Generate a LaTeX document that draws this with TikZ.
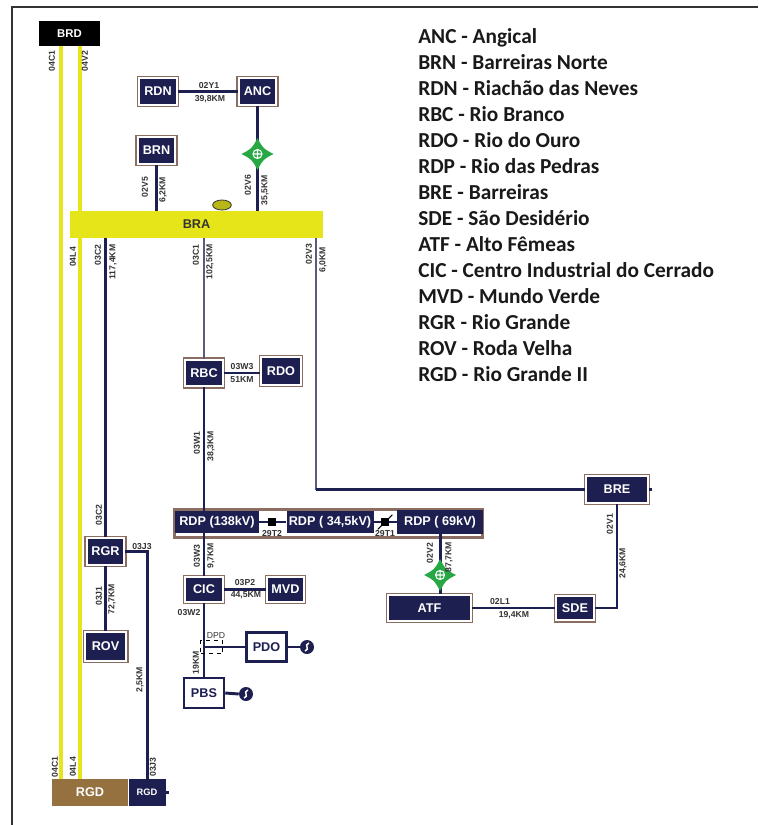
\documentclass[tikz,border=0pt]{standalone}
\usepackage{fontspec}
\setsansfont{Liberation Sans}
\newfontfamily\legendfont{Carlito}
\usetikzlibrary{positioning}
\usetikzlibrary{shapes.geometric}

\definecolor{navy}{HTML}{1C1F4F}
\definecolor{boxbrown}{HTML}{8C6D62}
\definecolor{busyellow}{HTML}{E6E51A}
\definecolor{lineyellow}{HTML}{E8E41C}
\definecolor{rgdbrown}{HTML}{94713F}
\definecolor{regreen}{HTML}{27A844}
\definecolor{thinblue}{HTML}{5A5A7E}
\definecolor{lblgray}{HTML}{333333}

\begin{document}
\begin{tikzpicture}[x=0.75pt, y=-0.75pt,
    stn/.style={rectangle, minimum width=28pt, minimum height=19.7pt, inner sep=0pt, fill=navy, draw=white, line width=1.6pt, preaction={draw=boxbrown, line width=3.6pt}, text=white, font=\sffamily\bfseries\fontsize{9.5}{11}\selectfont},
    rdpbox/.style={rectangle, minimum height=16.5pt, inner sep=0pt, fill=navy, text=white, font=\sffamily\bfseries\fontsize{9.5}{11}\selectfont},
    load/.style={rectangle, minimum width=30pt, minimum height=22pt, inner sep=0pt, fill=white, draw=navy, line width=1.9pt, text=navy, font=\sffamily\bfseries\fontsize{9.5}{11}\selectfont},
    gen/.style={circle, minimum size=10.5pt, inner sep=0pt, fill=navy, path picture={\draw[white, line width=1.1pt] ([shift={(2,-4)}]path picture bounding box.center) .. controls ([shift={(-4,-2)}]path picture bounding box.center) and ([shift={(4,2)}]path picture bounding box.center) .. ([shift={(-2,4)}]path picture bounding box.center);}},
    sw/.style={rectangle, fill=black, minimum size=6pt, inner sep=0pt},
    nline/.style={navy, line width=2.2pt},
    tline/.style={thinblue, line width=1.1pt},
    yline/.style={lineyellow, line width=2.4pt},
    lbl/.style={inner sep=0pt, text=lblgray, font=\sffamily\bfseries\fontsize{6.5}{7}\selectfont},
    vlbl/.style={lbl, rotate=90},
    leg/.style={inner sep=0pt, anchor=base west, text=black!90, font=\legendfont\bfseries\fontsize{16}{19}\selectfont},
    reg/.pic={
        \fill[regreen] (0,-16) .. controls (5.5,-5.5) .. (16,0) .. controls (5.5,5.5) .. (0,16) .. controls (-5.5,5.5) .. (-16,0) .. controls (-5.5,-5.5) .. cycle;
        \draw[white, line width=0.8pt] (0,0) circle (4.5) (-4.5,0) -- (4.5,0) (0,-4.5) -- (0,4.5);
    }
]
    \useasboundingbox (0,0) rectangle (758,825);
    \draw[black!80, line width=1.1pt] (12,825) -- (12,7) -- (758,7);

    % substations
    \node[rectangle, fill=black, minimum width=45.75pt, minimum height=18.75pt, inner sep=0pt, text=white, font=\sffamily\bfseries\fontsize{8.5}{10}\selectfont] (brd) at (69.5,33.5) {BRD};
    \node[rectangle, fill=busyellow, minimum width=189.75pt, minimum height=20.25pt, inner sep=0pt, text=black!80, font=\sffamily\bfseries\fontsize{9.5}{10}\selectfont] (bra) at (196.5,224.5) {BRA};
    \node[ellipse, fill=busyellow!80!black, draw=black!80, line width=0.6pt, minimum width=14pt, minimum height=7.5pt, inner sep=0pt] (ovl) at (222,205) {};
    \node[stn] (rdn) at (158,91.5) {RDN};
    \node[stn] (anc) at (257.5,91.5) {ANC};
    \node[stn] (brn) at (156.5,150.5) {BRN};
    \node[stn] (rbc) at (204,373) {RBC};
    \node[stn, minimum width=29.4pt, minimum height=20.4pt] (rdo) at (281,371) {RDO};
    \node[stn, minimum height=18.15pt] (cic) at (204,589.5) {CIC};
    \node[stn, minimum width=27.15pt, minimum height=18.15pt] (mvd) at (285.5,589.5) {MVD};
    \node[stn] (rgr) at (105.5,551.5) {RGR};
    \node[stn, minimum width=30.9pt, minimum height=21.15pt] (rov) at (105.5,646.5) {ROV};
    \node[stn, minimum width=45.9pt] (bre) at (617,489.5) {BRE};
    \node[stn, minimum height=18.15pt] (sde) at (575,608) {SDE};
    \node[stn, minimum width=61.65pt, minimum height=18.9pt] (atf) at (429.5,608) {ATF};
    \node[load] (pdo) at (266.5,647) {PDO};
    \node[load, minimum height=22.5pt] (pbs) at (204,693) {PBS};
    \node[gen] (gpdo) at (307,647) {};
    \node[gen] (gpbs) at (246,694) {};
    \node[rectangle, fill=rgdbrown, minimum width=57pt, minimum height=20.25pt, inner sep=0pt, text=white, font=\sffamily\bfseries\fontsize{9.5}{11}\selectfont] (rgd) at (90,792.5) {RGD};
    \node[rectangle, fill=navy, minimum width=27.75pt, minimum height=20.25pt, inner sep=0pt, text=white, font=\sffamily\bfseries\fontsize{7}{8}\selectfont, right=0pt of rgd] (rgd2) {RGD};

    % rio das pedras
    \node[rectangle, fill=white, draw=boxbrown, line width=2pt, minimum width=231.4pt, minimum height=21.4pt] (rdpf) at (328.5,523.5) {};
    \node[rdpbox, minimum width=63pt] (rdp1) at (217,522) {RDP (138kV)};
    \node[rdpbox, minimum width=65.25pt, right=20.25pt of rdp1] (rdp2) {RDP ( 34,5kV)};
    \node[rdpbox, minimum width=64.5pt, minimum height=18pt, right=17.25pt of rdp2] (rdp3) {RDP ( 69kV)};
    \draw[navy, line width=1pt] (rdp1) -- (rdp2);
    \draw[navy, line width=1pt] (rdp2) -- (rdp3);
    \node[sw] (sw1) at (272,522) {};
    \node[sw] (sw2) at (385,522) {};
    \draw[black, line width=0.8pt] ([shift={(-3,3)}]sw2.south west) -- ([shift={(3,-3)}]sw2.north east);

    % yellow lines
    \coordinate (x04c1) at (61,0);
    \coordinate (x04v2) at (80,0);
    \draw[yline] (brd.south -| x04c1) -- (rgd.north -| x04c1);
    \draw[yline] (brd.south -| x04v2) -- (bra.north -| x04v2);
    \draw[yline] (bra.south -| x04v2) -- (rgd.north -| x04v2);

    % lines
    \coordinate (x02v3) at (316,0);
    \coordinate (c02v3) at (316,489.5);
    \draw[nline] (rdn) -- (anc);
    \draw[nline] (anc.south) -- (anc.south |- bra.north);
    \draw[nline] (brn.south) -- (brn.south |- bra.north);
    \draw[nline] (rgr.north) -- (rgr.north |- bra.south);
    \draw[tline] (rbc.north) -- (rbc.north |- bra.south);
    \draw[tline] (bra.south -| x02v3) -- (c02v3);
    \draw[nline] (c02v3) -- (bre.west);
    \draw[nline] (bre.east) -- ++(3,0);
    \draw[nline] (bre.south) |- (sde.east);
    \draw[nline] (atf) -- (sde);
    \draw[nline] (rbc.east) -- (rbc.east -| rdo.west);
    \draw[nline] (rbc.south) -- (rbc.south |- rdp1.north);
    \draw[nline] (cic.north |- rdp1.south) -- (cic.north);
    \draw[nline] (cic) -- (mvd);
    \draw[nline] (cic.south) -- (pbs.north);
    \draw[nline] (cic.south |- pdo.west) -- (pdo.west);
    \draw[nline] (pdo.east) -- (gpdo.west);
    \draw[nline] (pbs.east) -- (gpbs.west);
    \draw[nline] (rgr) -- (rov);
    \draw[nline] (rgr.east) -| (rgd2.north);
    \draw[nline] (rgd2.east) -- ++(3,0);
    \draw[nline] (rdp3.south) -- (rdp3.south |- atf.north);
    \node[draw=black, dashed, line width=0.7pt, minimum width=16.5pt, minimum height=9.75pt, inner sep=0pt] (dpd) at (211.5,647) {};
    \pic at (anc.south |- 0,154) {reg};
    \pic at (rdp3.south |- 0,575) {reg};

    % line labels
    \node[lbl] (t02y1) at (209,86) {02Y1};
    \node[lbl] (k02y1) at (210,99) {39,8KM};
    \node[vlbl] (t04c1) at (52,61) {04C1};
    \node[vlbl] (t04v2) at (85,61) {04V2};
    \node[vlbl] (t02v5) at (145,187) {02V5};
    \node[vlbl] (k02v5) at (163,190) {6,2KM};
    \node[vlbl] (t02v6) at (248,185) {02V6};
    \node[vlbl] (k02v6) at (265,190) {35,5KM};
    \node[vlbl] (t04l4) at (73,257) {04L4};
    \node[vlbl] (t03c2) at (98,255) {03C2};
    \node[vlbl] (k03c2) at (113,262) {117,4KM};
    \node[vlbl] (t03c1) at (196,255) {03C1};
    \node[vlbl] (k03c1) at (210,262) {102,5KM};
    \node[vlbl] (t02v3) at (309,254) {02V3};
    \node[vlbl] (k02v3) at (323,260) {6,0KM};
    \node[lbl] (t03w3) at (242,367) {03W3};
    \node[lbl] (k03w3) at (242,380) {51KM};
    \node[vlbl] (t03w1) at (197,443) {03W1};
    \node[vlbl] (k03w1) at (211,446) {38,3KM};
    \node[lbl] (t29t2) at (272,534) {29T2};
    \node[lbl] (t29t1) at (385,534) {29T1};
    \node[vlbl] (t03w3b) at (197,556) {03W3};
    \node[vlbl] (k03w3b) at (211,556) {9,7KM};
    \node[vlbl] (t02v2) at (430,553) {02V2};
    \node[vlbl] (k02v2) at (449,557) {87,7KM};
    \node[lbl] (t03p2) at (245,583) {03P2};
    \node[lbl] (k03p2) at (246,595) {44,5KM};
    \node[lbl] (t03w2) at (189,613) {03W2};
    \node[lbl, font=\sffamily\fontsize{6.5}{7}\selectfont] (tdpd) at (216,636) {DPD};
    \node[vlbl] (k19) at (196,663) {19KM};
    \node[vlbl] (t03c2b) at (99,515) {03C2};
    \node[lbl] (t03j3) at (142,547) {03J3};
    \node[vlbl] (t03j1) at (99,596) {03J1};
    \node[vlbl] (k03j1) at (112,599) {72,7KM};
    \node[vlbl] (k03j3) at (140,680) {2,5KM};
    \node[vlbl] (t04c1b) at (55,767) {04C1};
    \node[vlbl] (t04l4b) at (73,767) {04L4};
    \node[vlbl] (t03j3b) at (153,767) {03J3};
    \node[vlbl] (t02v1) at (610,524) {02V1};
    \node[vlbl] (k02v1) at (623,563) {24,6KM};
    \node[lbl] (t02l1) at (500,602) {02L1};
    \node[lbl] (k02l1) at (514,615) {19,4KM};

    % legend
    \foreach \abbr/\full [count=\i] in {ANC/Angical, BRN/Barreiras Norte, RDN/Riachão das Neves, RBC/Rio Branco, RDO/Rio do Ouro, RDP/Rio das Pedras, BRE/Barreiras, SDE/São Desidério, ATF/Alto Fêmeas, CIC/Centro Industrial do Cerrado, MVD/Mundo Verde, RGR/Rio Grande, ROV/Roda Velha, RGD/Rio Grande II}
        \node[leg] (leg\i) at (418,{17+26*\i}) {\abbr\ - \full};
\end{tikzpicture}
\end{document}
